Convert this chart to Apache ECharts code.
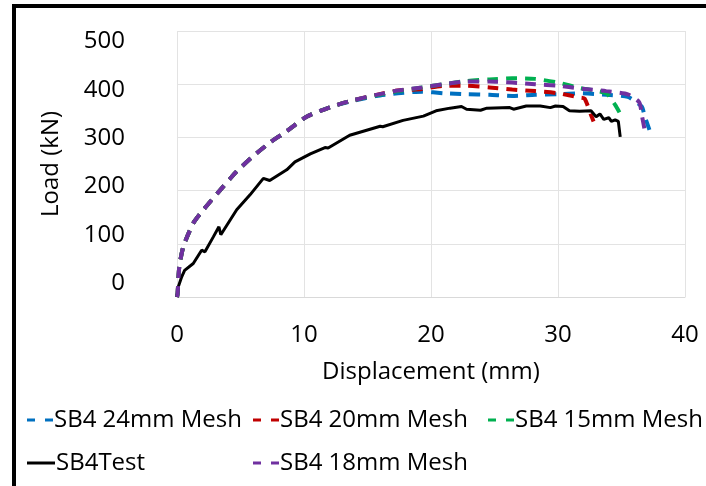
<!DOCTYPE html>
<html>
<head>
<meta charset="utf-8">
<script src="https://cdn.jsdelivr.net/npm/echarts@6/dist/echarts.min.js"></script>
<style>
html,body{margin:0;padding:0;background:#fff;}
#c{width:706px;height:486px;}
</style>
</head>
<body>
<div id="c"></div>
<script>
// ---- data (displacement mm, load kN) ----
const xTicks = [0, 10, 20, 30, 40];
const yTicks = [0, 100, 200, 300, 400, 500];

const mesh24X = [0,0.05,0.18,0.5,1.29,2.08,3.4,4.7,6.0,7.3,8.6,10.2,12.2,13.9,15.7,17.4,19.3,21.0,22.8,24.6,26.4,28.2,30.0,31.7,33.8,35.5,36.6,36.8,37.2];
const mesh24Y = [0,7,57,95,139,164,201,236,265,290,311,339,358,369,378,383,386,383,381,380,378,380,381,383,380,376,358,342,314];

const mesh20X = [0,0.05,0.18,0.5,1.29,2.08,3.4,4.7,6.0,7.3,8.6,10.2,12.2,13.9,15.7,17.4,19.3,21.0,22.8,24.6,26.4,28.2,30.0,31.7,32.1,32.6,32.8];
const mesh20Y = [0,7,57,95,139,164,201,236,265,290,311,339,358,370,380,388,391,397,397,394,390,387,383,375,373,342,330];

const mesh15X = [0,0.05,0.18,0.5,1.29,2.08,3.4,4.7,6.0,7.3,8.6,10.2,12.2,13.9,15.7,17.4,19.3,21.0,22.8,24.6,26.4,28.2,30.0,31.7,33.8,34.5,35.0];
const mesh15Y = [0,7,57,95,139,164,201,236,265,290,311,339,358,370,379,387,394,400,406,409,411,410,403,393,383,361,340];

const testX = [0,0.1,0.37,0.6,1.28,1.94,2.2,2.86,3.3,3.45,4.7,5.75,6.8,7.3,8.64,9.29,10.5,11.65,11.9,13.6,16.0,16.2,17.8,19.4,20.4,21.5,22.4,22.8,23.9,24.4,26.2,26.5,27.5,28.6,29.4,29.8,30.4,30.9,31.7,32.6,33.0,33.3,33.6,34.0,34.2,34.5,34.75,34.9];
const testY = [0,19,38,50,63,88,85,113,132,117,164,192,223,219,239,254,269,281,280,304,321,320,332,340,350,355,358,353,351,355,356,353,359,359,356,359,358,350,349,350,339,344,334,337,330,333,330,301];

const mesh18X = [0,0.05,0.18,0.5,1.29,2.08,3.4,4.7,6.0,7.3,8.6,10.2,12.2,13.9,15.7,17.4,19.3,21.0,22.8,24.6,26.4,28.2,30.0,31.7,33.8,35.5,36.4,36.6,36.8];
const mesh18Y = [0,7,57,95,139,164,201,236,265,290,311,339,358,370,380,388,394,400,405,405,403,400,397,392,387,381,366,342,317];

const names = ['SB4 24mm Mesh','SB4 20mm Mesh','SB4 15mm Mesh','SB4Test','SB4 18mm Mesh'];
const colors = ['#0070C0','#C00000','#00B050','#000000','#7030A0'];

function pairs(xs, ys){ return xs.map((x,i)=>[x, ys[i]]); }

const FONT = 'Open Sans';
const FS = 24;
const chart = echarts.init(document.getElementById('c'), null, {renderer:'canvas'});

const dashed = (i, data) => ({
  name: names[i], type:'line', data: data, xAxisIndex:0, yAxisIndex:0,
  showSymbol:false, symbol:'none', smooth:0.2,
  lineStyle:{color:colors[i], width:4, type:[11,8], cap:'butt'},
  itemStyle:{color:colors[i]}
});

const DASH_ICON = 'path://M0,0h8v3h-8z M18,0h8v3h-8z';
const LINE_ICON = 'path://M0,0h28v3h-28z';

function legendAt(i, left, top, dash){
  return {
    show:true, left:left, top:top, padding:0, itemGap:0,
    itemWidth: dash ? 26 : 28, itemHeight:3,
    data:[{name:names[i], icon: dash ? DASH_ICON : LINE_ICON,
      itemStyle:{color:colors[i], borderWidth:0}}],
    textStyle:{fontFamily:FONT, fontSize:FS, color:'#000', padding:[0,0,0,-4]},
    selectedMode:false
  };
}

const option = {
  backgroundColor:'#fff',
  animation:false,
  graphic:[{
    type:'rect', shape:{x:14, y:6, width:900, height:700},
    style:{fill:'none', stroke:'#000', lineWidth:4}, silent:true
  }],
  grid:{left:177, right:21, top:31, bottom:189, containLabel:false},
  legend:[
    legendAt(0, 27, 408, true),
    legendAt(1, 253, 408, true),
    legendAt(2, 488, 408, true),
    legendAt(3, 27, 451, false),
    legendAt(4, 253, 451, true)
  ],
  xAxis:{
    type:'value', min:0, max:40, interval:10,
    name:'Displacement (mm)', nameLocation:'middle', nameGap:63,
    nameTextStyle:{fontFamily:FONT, fontSize:FS, color:'#000'},
    axisLine:{show:true, lineStyle:{color:'#d9d9d9', width:1}},
    axisTick:{show:false},
    axisLabel:{fontFamily:FONT, fontSize:FS, color:'#000', margin:26,
      customValues: xTicks},
    splitLine:{show:true, lineStyle:{color:'#e3e3e3', width:1}}
  },
  yAxis:[{
    type:'value', min:0, max:500, interval:100,
    axisLine:{show:false}, axisTick:{show:false},
    axisLabel:{show:false},
    splitLine:{show:true, lineStyle:{color:'#e3e3e3', width:1}}
  },{
    type:'value', min:-28.3, max:522, position:'left',
    name:'Load (kN)', nameLocation:'middle', nameGap:114,
    nameTextStyle:{fontFamily:FONT, fontSize:FS, color:'#000'},
    axisLine:{show:false}, axisTick:{show:false},
    splitLine:{show:false},
    axisLabel:{fontFamily:FONT, fontSize:FS, color:'#000', margin:52,
      customValues: yTicks, showMinLabel:true, showMaxLabel:true}
  }],
  series:[
    dashed(0, pairs(mesh24X, mesh24Y)),
    dashed(1, pairs(mesh20X, mesh20Y)),
    dashed(2, pairs(mesh15X, mesh15Y)),
    {
      name:names[3], type:'line', data:pairs(testX, testY),
      showSymbol:false, symbol:'none', smooth:false,
      lineStyle:{color:colors[3], width:3, type:'solid'},
      itemStyle:{color:colors[3]}
    },
    dashed(4, pairs(mesh18X, mesh18Y))
  ]
};
chart.setOption(option);
</script>
</body>
</html>
